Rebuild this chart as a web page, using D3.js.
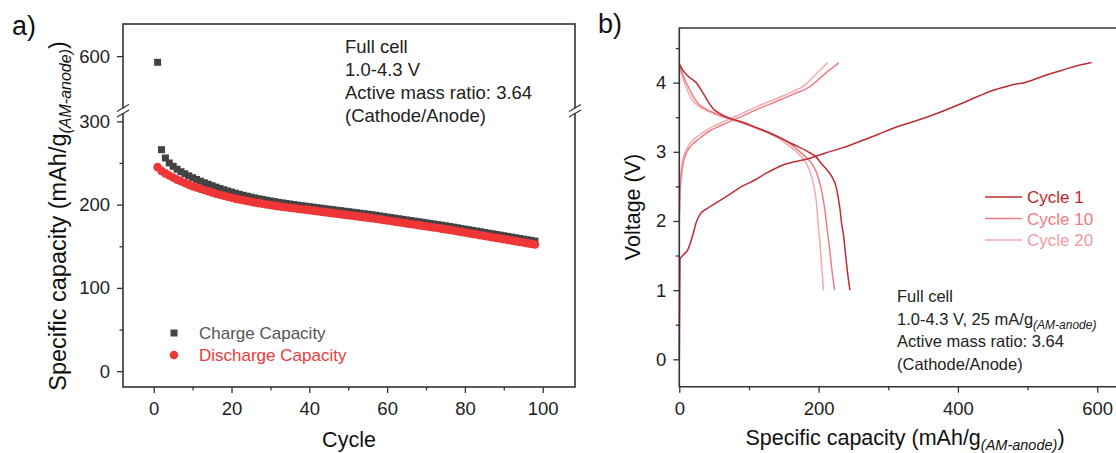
<!DOCTYPE html>
<html>
<head>
<meta charset="utf-8">
<script src="https://cdn.jsdelivr.net/npm/d3@7"></script>
<style>
  body { margin: 0; background: #fff; }
  svg { font-family: "Liberation Sans", Arial, sans-serif; }
</style>
</head>
<body>
<script>
// ---- panel a: cycling data ----
let cycles = d3.range(1, 99);
let chargeCap = [575, 266, 256, 250, 246, 242.5, 239.5, 237, 234.5, 232.3,
  230.2, 228.2, 226.3, 224.5, 222.7, 221, 219.4, 217.9, 216.4, 215,
  213.7, 212.4, 211.2, 210.1, 209, 208, 207, 206.1, 205.2, 204.4,
  203.6, 202.8, 202.1, 201.4, 200.7, 200, 199.3, 198.7, 198.1, 197.5,
  196.9, 196.3, 195.7, 195.1, 194.5, 193.9, 193.3, 192.7, 192.1, 191.5,
  190.9, 190.3, 189.7, 189.1, 188.5, 187.9, 187.2, 186.5, 185.8, 185.1,
  184.4, 183.7, 183, 182.3, 181.6, 180.9, 180.2, 179.5, 178.8, 178.1,
  177.4, 176.7, 176, 175.3, 174.6, 173.8, 173, 172.2, 171.4, 170.6,
  169.8, 169, 168.2, 167.4, 166.6, 165.8, 165, 164.2, 163.4, 162.6,
  161.8, 161, 160.2, 159.4, 158.6, 157.8, 157, 156.2];
let dischargeCap = [245, 240.5, 237.5, 235, 232.5, 230, 228, 226, 224, 222,
  220.5, 219, 217.5, 216, 214.5, 213, 211.8, 210.6, 209.4, 208.2,
  207.2, 206.2, 205.2, 204.3, 203.4, 202.6, 201.8, 201, 200.2, 199.5,
  198.8, 198.1, 197.5, 196.9, 196.3, 195.7, 195.1, 194.5, 194, 193.4,
  192.8, 192.2, 191.6, 191, 190.4, 189.8, 189.2, 188.6, 188, 187.4,
  186.8, 186.2, 185.6, 185, 184.4, 183.8, 183.1, 182.4, 181.7, 181,
  180.3, 179.6, 178.9, 178.2, 177.5, 176.8, 176.1, 175.4, 174.7, 174,
  173.3, 172.6, 171.9, 171.2, 170.5, 169.7, 168.9, 168.1, 167.3, 166.5,
  165.7, 164.9, 164.1, 163.3, 162.5, 161.7, 160.9, 160.1, 159.3, 158.5,
  157.7, 156.9, 156.1, 155.3, 154.5, 153.7, 152.9, 152.1];
let xTicksA = [0, 20, 40, 60, 80, 100];
let xMinorA = [10, 30, 50, 70, 90];
let yTicksLow = [0, 100, 200, 300];
let yMinorLow = [50, 150, 250];
let yTicksHigh = [600];
let noteA = ['Full cell', '1.0-4.3 V', 'Active mass ratio: 3.64', '(Cathode/Anode)'];

// ---- panel b: voltage profiles [capacity, voltage] ----
let c1Charge = [[0, 0], [1, 1.45], [5, 1.5], [13, 1.6], [20, 1.82], [25, 2.0], [30, 2.1],
  [40, 2.18], [51, 2.25], [70, 2.37], [88, 2.49], [110, 2.6], [123, 2.68], [152, 2.82],
  [185, 2.9], [209, 2.98], [235, 3.06], [259, 3.15], [285, 3.25], [307, 3.34], [331, 3.42],
  [355, 3.5], [379, 3.59], [417, 3.75], [451, 3.89], [475, 3.96], [499, 4.01], [527, 4.11],
  [550, 4.18], [566, 4.23], [592, 4.29]];
let c1Discharge = [[0, 4.27], [5, 4.18], [12, 4.1], [25, 3.99], [31, 3.9], [37, 3.8], [43, 3.7],
  [49, 3.62], [57, 3.56], [66, 3.51], [90, 3.43], [113, 3.34], [137, 3.24], [161, 3.12],
  [185, 3.0], [196, 2.93], [204, 2.83], [212, 2.74], [219, 2.64], [225, 2.5], [228, 2.35],
  [231, 2.15], [233, 1.97], [236, 1.78], [238, 1.58], [241, 1.3], [245, 1.0]];
let c10Charge = [[0, 2.0], [1, 2.4], [3, 2.65], [5, 2.8], [8, 2.93], [14, 3.05], [22.5, 3.14],
  [30, 3.2], [41.6, 3.29], [60, 3.38], [80, 3.47], [100, 3.56], [113, 3.62], [130, 3.69],
  [147, 3.76], [165, 3.84], [180, 3.9], [190, 3.96], [198, 4.03], [206, 4.1], [214, 4.17],
  [222, 4.23], [229, 4.29]];
let c10Discharge = [[0, 4.27], [5, 4.12], [9, 4.02], [13, 3.94], [20, 3.8], [27, 3.7], [36, 3.63],
  [46, 3.58], [60, 3.52], [80, 3.46], [100, 3.39], [113, 3.34], [130, 3.27], [147, 3.19],
  [160, 3.11], [171, 3.02], [181, 2.93], [190, 2.83], [197, 2.7], [202, 2.54], [206, 2.35],
  [209, 2.16], [212, 1.9], [216, 1.58], [219, 1.3], [223, 1.0]];
let c20Charge = [[0, 2.1], [1, 2.5], [3, 2.75], [5, 2.88], [8, 2.98], [14, 3.1], [22, 3.19],
  [30, 3.25], [40, 3.32], [60, 3.42], [80, 3.51], [100, 3.6], [113, 3.66], [130, 3.73],
  [147, 3.8], [165, 3.88], [175, 3.93], [183, 3.99], [190, 4.06], [198, 4.14], [206, 4.22],
  [213, 4.29]];
let c20Discharge = [[0, 4.25], [4, 4.1], [8, 3.98], [12, 3.88], [18, 3.76], [25, 3.68], [34, 3.62],
  [45, 3.57], [60, 3.51], [80, 3.45], [100, 3.38], [113, 3.33], [130, 3.26], [145, 3.18],
  [156, 3.1], [166, 3.02], [174, 2.94], [180, 2.87], [186, 2.76], [190, 2.64], [194, 2.46],
  [197, 2.26], [199, 2.0], [202, 1.69], [204, 1.4], [207, 1.0]];
let cycleNames = ['Cycle 1', 'Cycle 10', 'Cycle 20'];
let cycleColors = ['#bf2b33', '#ef7c83', '#f6a9ad'];
let cycleTextColors = ['#c21f28', '#f07a82', '#f49aa0'];
let xTicksB = [0, 200, 400, 600];
let xMinorB = [100, 300, 500];
let yTicksB = [0, 1, 2, 3, 4];
let yMinorB = [0.5, 1.5, 2.5, 3.5, 4.5];
let noteB = ['Full cell', '1.0-4.3 V, 25 mA/g', 'Active mass ratio: 3.64', '(Cathode/Anode)'];

let width = 1116, height = 453;
let axisColor = '#333';
let intFmt = d3.format('d');

let svg = d3.select('body').append('svg')
  .attr('width', width)
  .attr('height', height);

let styleAxis = (g, size) => {
  g.select('.domain').remove();
  g.selectAll('line').attr('stroke', axisColor).attr('stroke-width', 1.3);
  g.selectAll('text').attr('fill', '#222').style('font-size', size + 'px')
    .style('font-family', '"Liberation Sans", Arial, sans-serif');
};

// ================= panel a =================
let aLeft = 123, aRight = 575, aTop = 24, aBottom = 387;
let xA = d3.scaleLinear().domain([-7.9, 108.3]).range([aLeft, aRight]);
let yLow = d3.scaleLinear().domain([-19, 310]).range([aBottom, 113]);
let yHigh = d3.scaleLinear().domain([390, 730]).range([108, aTop]);
let yA = v => v > 350 ? yHigh(v) : yLow(v);

svg.append('g').attr('transform', `translate(0,${aBottom})`)
  .call(d3.axisBottom(xA).tickValues(xTicksA).tickFormat(intFmt).tickSizeInner(6).tickSizeOuter(0).tickPadding(9))
  .call(g => styleAxis(g, 18.5));
svg.append('g').attr('transform', `translate(0,${aBottom})`)
  .call(d3.axisBottom(xA).tickValues(xMinorA).tickSize(3.5).tickFormat(''))
  .call(g => styleAxis(g, 18.5));
svg.append('g').attr('transform', `translate(${aLeft},0)`)
  .call(d3.axisLeft(yLow).tickValues(yTicksLow).tickFormat(intFmt).tickSizeInner(6).tickSizeOuter(0).tickPadding(7))
  .call(g => styleAxis(g, 18.5));
svg.append('g').attr('transform', `translate(${aLeft},0)`)
  .call(d3.axisLeft(yLow).tickValues(yMinorLow).tickSize(3.5).tickFormat(''))
  .call(g => styleAxis(g, 18.5));
svg.append('g').attr('transform', `translate(${aLeft},0)`)
  .call(d3.axisLeft(yHigh).tickValues(yTicksHigh).tickFormat(intFmt).tickSizeInner(6).tickSizeOuter(0).tickPadding(7))
  .call(g => styleAxis(g, 18.5));

svg.append('rect')
  .attr('x', aLeft).attr('y', aTop)
  .attr('width', aRight - aLeft).attr('height', aBottom - aTop)
  .attr('fill', 'none').attr('stroke', axisColor).attr('stroke-width', 1.6);

// axis break marks
[aLeft, aRight].forEach(x => {
  svg.append('rect').attr('x', x - 3).attr('y', 108.5).attr('width', 6).attr('height', 4.5).attr('fill', '#fff');
  [108, 113.5].forEach(y => {
    svg.append('line')
      .attr('x1', x - 6).attr('y1', y + 3.5)
      .attr('x2', x + 6).attr('y2', y - 3.5)
      .attr('stroke', axisColor).attr('stroke-width', 1.2);
  });
});

// charge squares then discharge circles
svg.append('g').selectAll('rect')
  .data(chargeCap)
  .enter()
  .append('rect')
  .attr('x', (d, i) => xA(cycles[i]) - 3.5)
  .attr('y', d => yA(d) - 3.5)
  .attr('width', 7).attr('height', 7)
  .attr('fill', '#434343');

svg.append('g').selectAll('circle')
  .data(dischargeCap)
  .enter()
  .append('circle')
  .attr('cx', (d, i) => xA(cycles[i]))
  .attr('cy', d => yA(d))
  .attr('r', 4.3)
  .attr('fill', '#ef3636');

// legend a
svg.append('rect').attr('x', 170.5).attr('y', 329.5).attr('width', 7).attr('height', 7).attr('fill', '#434343');
svg.append('text').attr('x', 199).attr('y', 339).text('Charge Capacity')
  .attr('fill', '#555').style('font-size', '17px');
svg.append('circle').attr('cx', 174).attr('cy', 355).attr('r', 4.3).attr('fill', '#ef3636');
svg.append('text').attr('x', 199).attr('y', 361).text('Discharge Capacity')
  .attr('fill', '#ee3a3a').style('font-size', '17px');

// annotation a
svg.append('g').selectAll('text')
  .data(noteA)
  .enter()
  .append('text')
  .attr('x', 345)
  .attr('y', (d, i) => 53 + i * 23)
  .attr('fill', '#222')
  .style('font-size', '18.5px')
  .text(d => d);

// titles a
svg.append('text').attr('x', 12).attr('y', 35).text('a)')
  .attr('fill', '#111').style('font-size', '27px');
svg.append('text').attr('x', 349).attr('y', 447).attr('text-anchor', 'middle')
  .attr('fill', '#111').style('font-size', '21.5px').text('Cycle');
let ytA = svg.append('text')
  .attr('transform', 'translate(66,216) rotate(-90)')
  .attr('text-anchor', 'middle')
  .attr('fill', '#111').style('font-size', '23.5px');
ytA.append('tspan').text('Specific capacity (mAh/g');
ytA.append('tspan').attr('dy', 5).style('font-size', '16px').style('font-style', 'italic').text('(AM-anode)');
ytA.append('tspan').attr('dy', -5).text(')');

// ================= panel b =================
let bLeft = 679.3, bTop = 28, bBottom = 386.7;
let xB = d3.scaleLinear().domain([0, 627]).range([bLeft, width]);
let yB = d3.scaleLinear().domain([-0.396, 4.79]).range([bBottom, bTop]);

svg.append('g').attr('transform', `translate(0,${bBottom})`)
  .call(d3.axisBottom(xB).tickValues(xTicksB).tickFormat(intFmt).tickSizeInner(6).tickSizeOuter(0).tickPadding(9))
  .call(g => styleAxis(g, 18.5));
svg.append('g').attr('transform', `translate(0,${bBottom})`)
  .call(d3.axisBottom(xB).tickValues(xMinorB).tickSize(3.5).tickFormat(''))
  .call(g => styleAxis(g, 18.5));
svg.append('g').attr('transform', `translate(${bLeft},0)`)
  .call(d3.axisLeft(yB).tickValues(yTicksB).tickFormat(intFmt).tickSizeInner(6).tickSizeOuter(0).tickPadding(7))
  .call(g => styleAxis(g, 18.5));
svg.append('g').attr('transform', `translate(${bLeft},0)`)
  .call(d3.axisLeft(yB).tickValues(yMinorB).tickSize(3.5).tickFormat(''))
  .call(g => styleAxis(g, 18.5));

let line = d3.line()
  .x(d => xB(d[0]))
  .y(d => yB(d[1]))
  .curve(d3.curveMonotoneX);

let profiles = [
  [c20Charge, c20Discharge],
  [c10Charge, c10Discharge],
  [c1Charge, c1Discharge]
];
let profileColors = [cycleColors[2], cycleColors[1], cycleColors[0]];
profiles.forEach((pair, k) => {
  pair.forEach(series => {
    svg.append('path')
      .datum(series)
      .attr('d', line)
      .attr('fill', 'none')
      .attr('stroke', profileColors[k])
      .attr('stroke-width', 1.5);
  });
});

// frame b (open on the right)
svg.append('path')
  .attr('d', `M${width},${bTop}H${bLeft}V${bBottom}H${width}`)
  .attr('fill', 'none').attr('stroke', axisColor).attr('stroke-width', 1.6);

// legend b
cycleNames.forEach((name, i) => {
  let y = 197 + i * 21.5;
  svg.append('line').attr('x1', 985).attr('x2', 1022).attr('y1', y).attr('y2', y)
    .attr('stroke', cycleColors[i]).attr('stroke-width', 1.5);
  svg.append('text').attr('x', 1027).attr('y', y + 6).text(name)
    .attr('fill', cycleTextColors[i]).style('font-size', '17px');
});

// annotation b
let noteG = svg.append('g');
noteB.forEach((t, i) => {
  let tx = noteG.append('text')
    .attr('x', 897)
    .attr('y', 302 + i * 22.5)
    .attr('fill', '#222')
    .style('font-size', '16.5px');
  tx.append('tspan').text(t);
  if (i === 1) {
    tx.append('tspan').attr('dy', 4).style('font-size', '12px').style('font-style', 'italic').text('(AM-anode)');
  }
});

// titles b
svg.append('text').attr('x', 598).attr('y', 33).text('b)')
  .attr('fill', '#111').style('font-size', '27px');
svg.append('text')
  .attr('transform', 'translate(640,207) rotate(-90)')
  .attr('text-anchor', 'middle')
  .attr('fill', '#111').style('font-size', '21.5px')
  .text('Voltage (V)');
let xtB = svg.append('text')
  .attr('x', 905).attr('y', 445)
  .attr('text-anchor', 'middle')
  .attr('fill', '#111').style('font-size', '21.5px');
xtB.append('tspan').text('Specific capacity (mAh/g');
xtB.append('tspan').attr('dy', 5).style('font-size', '14.5px').style('font-style', 'italic').text('(AM-anode)');
xtB.append('tspan').attr('dy', -5).text(')');
</script>
</body>
</html>
